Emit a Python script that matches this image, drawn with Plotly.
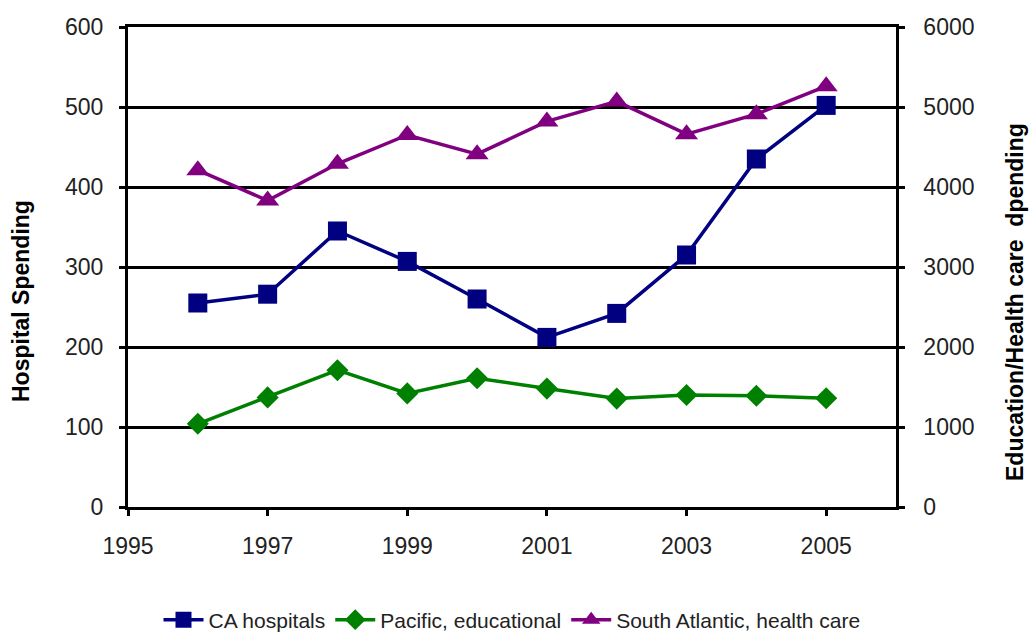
import plotly.graph_objects as go

years = [1996, 1997, 1998, 1999, 2000, 2001, 2002, 2003, 2004, 2005]
ca_hospitals = [255, 266, 345, 307, 260, 212, 242, 315, 435, 502]
pacific_educational = [1040, 1370, 1710, 1420, 1610, 1480, 1355, 1400, 1390, 1360]
south_atlantic_health = [4210, 3830, 4290, 4650, 4410, 4820, 5070, 4660, 4910, 5260]

x_ticks = [1995, 1997, 1999, 2001, 2003, 2005]
left_ticks = [0, 100, 200, 300, 400, 500, 600]
right_ticks = [0, 1000, 2000, 3000, 4000, 5000, 6000]

FONT = "Liberation Sans, Arial, sans-serif"
ML, MR, MT, MB = 128, 137, 27, 126
W, H = 1033, 633

fig = go.Figure()
fig.add_trace(go.Scatter(
    x=years, y=ca_hospitals, name="CA hospitals", mode="lines+markers",
    line=dict(color="#000080", width=3.5),
    marker=dict(symbol="square", size=19, color="#000080"),
    yaxis="y"))
fig.add_trace(go.Scatter(
    x=years, y=pacific_educational, name="Pacific, educational", mode="lines+markers",
    line=dict(color="#008000", width=3.5),
    marker=dict(symbol="diamond", size=17, color="#008000"),
    yaxis="y2"))
fig.add_trace(go.Scatter(
    x=years, y=south_atlantic_health, name="South Atlantic, health care", mode="lines+markers",
    line=dict(color="#800080", width=3.5),
    marker=dict(symbol="triangle-up", size=20, color="#800080"),
    yaxis="y2"))

tickfont = dict(family=FONT, size=23, color="#222")

fig.update_layout(
    width=W, height=H,
    margin=dict(l=ML, r=MR, t=MT, b=MB, autoexpand=False),
    paper_bgcolor="white", plot_bgcolor="white",
    font=dict(family=FONT, size=21, color="#222"),
    showlegend=True,
    legend=dict(orientation="h", x=0.5, xanchor="center", y=0, yanchor="middle",
                font=dict(family=FONT, size=21, color="#222"), itemwidth=40, tracegroupgap=0),
    xaxis=dict(range=[1995, 2006], tickvals=x_ticks, ticktext=[str(v) for v in x_ticks],
               showgrid=False, zeroline=False,
               showline=True, linecolor="black", linewidth=2.5, mirror=True,
               ticks="outside", ticklen=6, tickwidth=2.5, tickcolor="black",
               ticklabelstandoff=11, tickfont=tickfont),
    yaxis=dict(range=[0, 600], tickvals=left_ticks, showgrid=True, gridcolor="black", gridwidth=2.5,
               zeroline=False, showline=True, linecolor="black", linewidth=3,
               ticks="outside", ticklen=6, tickwidth=2.5, tickcolor="black",
               ticklabelstandoff=11, tickfont=tickfont),
    yaxis2=dict(range=[0, 6000], tickvals=right_ticks, overlaying="y", side="right",
                showgrid=False, zeroline=False, showline=True, linecolor="black", linewidth=2.5,
                ticks="outside", ticklen=6, tickwidth=2.5, tickcolor="black",
                ticklabelstandoff=14, tickfont=tickfont),
)

pw = W - ML - MR
ph = H - MT - MB

def px_to_paper(xp, yp):
    return (xp - ML) / pw, (H - MB - yp) / ph

# legend centre at pixel y=620
fig.layout.legend.y = px_to_paper(0, 620)[1]

ax, ay = px_to_paper(21, 301)
bx, by = px_to_paper(1015, 302)
fig.update_layout(annotations=[
    dict(text="<b>Hospital Spending</b>", x=ax, y=ay, xref="paper", yref="paper",
         xanchor="center", yanchor="middle",
         showarrow=False, textangle=-90, font=dict(family=FONT, size=23, color="black")),
    dict(text="<b>Education/Health care  dpending</b>", x=bx, y=by, xref="paper", yref="paper",
         xanchor="center", yanchor="middle",
         showarrow=False, textangle=-90, font=dict(family=FONT, size=23, color="black")),
])

fig.write_html("out.html")
